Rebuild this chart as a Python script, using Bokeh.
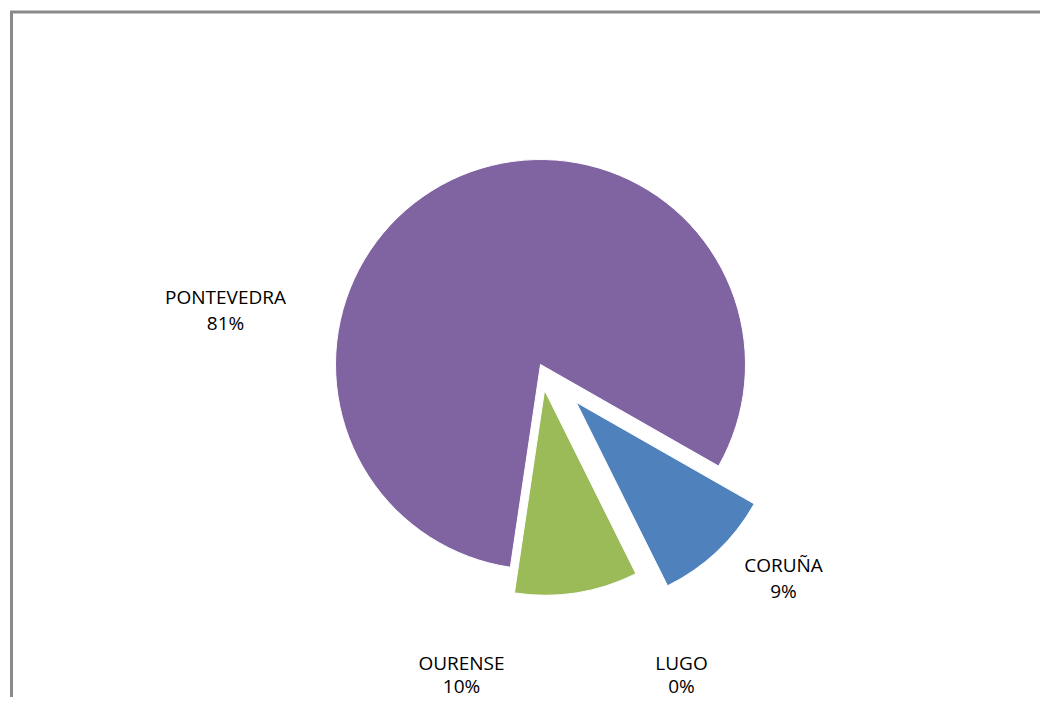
import math
from bokeh.plotting import figure
from bokeh.models import Range1d
from bokeh.core.properties import value
from bokeh.embed import file_html
from bokeh.resources import INLINE

# ---- data ----
categories = ["CORUÑA", "LUGO", "OURENSE", "PONTEVEDRA"]
values = [9.4, 0.0, 9.7, 80.9]
colors = ["#4F81BD", "#C0504D", "#9BBB59", "#8064A2"]

# ---- layout / style ----
W, H = 1040, 697
first_slice_angle = 119.7          # degrees, clockwise from 12 o'clock
explode = [52, 26, 26, 0]          # px offset along bisector
cx, cy_s = 540, 364                # pie centre (screen px)
radius = 205
# (x centre, name baseline, line gap) in screen px
label_pos = [(783, 564, 26), (681, 662, 23), (461, 662, 23), (225, 296, 26)]

def sy(y):
    return H - y

p = figure(width=W, height=H, output_backend="svg", toolbar_location=None,
           x_range=Range1d(0, W), y_range=Range1d(0, H),
           min_border=0)
p.axis.visible = False
p.grid.visible = False
p.outline_line_color = None
p.background_fill_color = "white"
p.border_fill_color = "white"

# chart area frame (extends beyond the visible window on right/bottom)
p.line(x=[11, 11, 1200], y=[sy(900), sy(11.5), sy(11.5)],
       line_color="#8a8a8a", line_width=3, line_join="miter")

total = sum(values)
theta = first_slice_angle
for cat, v, col, ex in zip(categories, values, colors, explode):
    span = 360.0 * v / total
    t1, t2 = theta, theta + span
    theta = t2
    if span <= 0:
        continue
    mid = math.radians((t1 + t2) / 2)
    ox = ex * math.sin(mid)
    oy = ex * math.cos(mid)        # upward in data space
    p.wedge(x=[cx + ox], y=[sy(cy_s) + oy], radius=radius,
            start_angle=math.radians(90 - t2), end_angle=math.radians(90 - t1),
            direction="anticlock", fill_color=col, line_color="white",
            line_width=1)

# labels
for cat, v, (lx, ly, gap) in zip(categories, values, label_pos):
    pct = f"{round(100 * v / total)}%"
    p.text(x=[lx, lx], y=[sy(ly), sy(ly + gap)], text=[cat, pct],
           text_align="center", text_baseline="alphabetic",
           text_font=value("Open Sans"), text_font_size="19px",
           text_color="#000000")

open("out.html", "w").write(file_html(p, INLINE))
